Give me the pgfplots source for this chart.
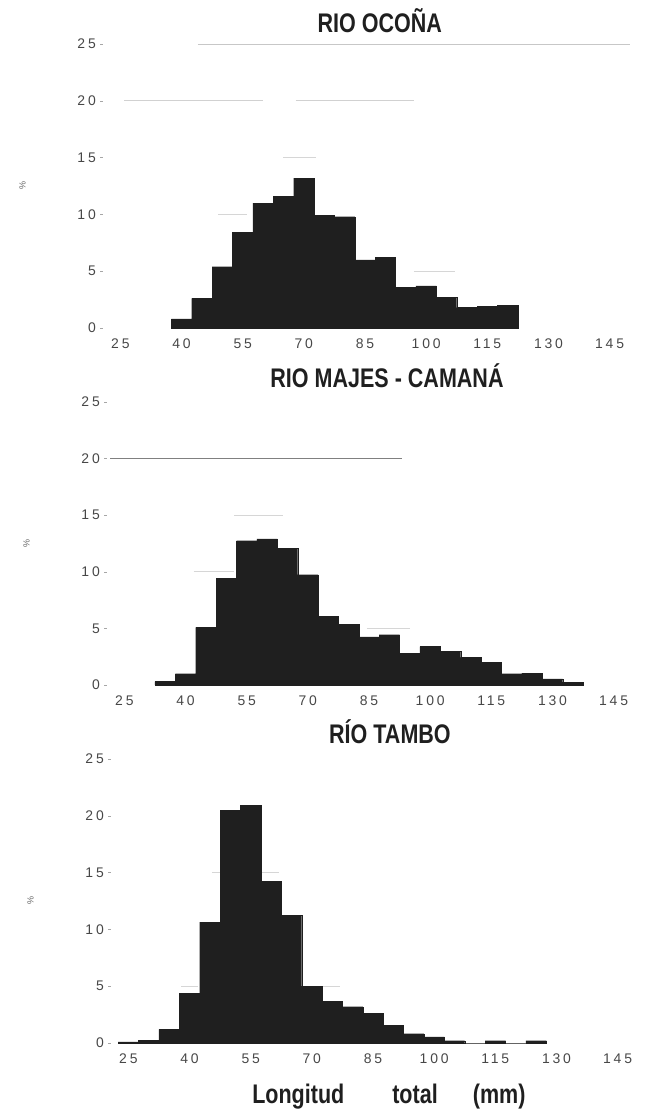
\documentclass[border=0pt]{standalone}
\usepackage{fontspec}
\setmainfont{Liberation Sans}
\newfontfamily\tickfont[LetterSpace=20]{Liberation Sans}
\usepackage{graphicx}
\usepackage{pgfplots}
\pgfplotsset{compat=1.18}
\definecolor{barc}{gray}{0.12}
\pgfplotsset{
  hist/.style={
    scale only axis, width=530bp, height=284bp,
    xmin=20, xmax=150, ymin=0, ymax=25,
    xtick={25,40,...,145}, ytick={0,5,...,25},
    axis line style={draw=none},
    xtick style={draw=none},
    ytick pos=left,
    ytick style={draw=black!35, thin},
    major tick length=3bp,
    tick label style={font=\tickfont\fontsize{14}{16}\selectfont, text=black!72, inner sep=0pt},
    /pgf/number format/assume math mode=true,
    yticklabel style={xshift=-4bp},
    xticklabel style={yshift=-11bp},
    ylabel={\%},
    ylabel style={at={(axis description cs:-0.146,0.5)}, anchor=center, font=\fontsize{9}{10}\selectfont, text=black!60},
    title style={font=\fontsize{27}{30}\selectfont\bfseries, anchor=center, text=black!88},
    clip=false,
  },
  gl/.style={black!22, line width=0.6bp},
  bars/.style={ybar, bar width=5, fill=barc, draw=barc, line width=0.2bp},
}
\begin{document}
\begin{tikzpicture}
\useasboundingbox (0,0) rectangle (651bp,1114bp);
% ---------- RIO OCONA ----------
\begin{axis}[hist, at={(100bp,786bp)}, anchor=south west,
  title={\scalebox{0.8}[1]{RIO OCOÑA}},
  title style={at={(axis description cs:0.528,1.06)}}]
\addplot[gl] coordinates {(44,25) (150,25)};
\addplot[gl, black!18] coordinates {(26,20) (60,20)};
\addplot[gl, black!18] coordinates {(68,20) (97,20)};
\addplot[gl, black!16] coordinates {(65,15) (73,15)};
\addplot[gl, black!16] coordinates {(49,10) (56,10)};
\addplot[gl, black!16] coordinates {(97,5) (107,5)};
\addplot[bars] table {
x y
40 0.8
45 2.6
50 5.4
55 8.4
60 11.0
65 11.6
70 13.2
75 9.9
80 9.8
85 6.0
90 6.2
95 3.6
100 3.7
105 2.7
110 1.8
115 1.9
120 2.0
};
\end{axis}
% ---------- RIO MAJES - CAMANA ----------
\begin{axis}[hist, at={(104bp,429bp)}, anchor=south west, height=283bp,
  title={\scalebox{0.8}[1]{RIO MAJES - CAMANÁ}},
  title style={at={(axis description cs:0.534,1.07)}}]
\addplot[gl, black!50] coordinates {(21.5,20) (93,20)};
\addplot[gl, black!16] coordinates {(52,15) (64,15)};
\addplot[gl, black!16] coordinates {(42,10) (52,10)};
\addplot[gl, black!16] coordinates {(84.5,5) (95,5)};
\addplot[bars] table {
x y
35 0.3
40 1.0
45 5.1
50 9.45
55 12.75
60 12.9
65 12.05
70 9.75
75 6.05
80 5.35
85 4.25
90 4.45
95 2.8
100 3.4
105 3.0
110 2.45
115 2.0
120 1.0
125 1.05
130 0.55
135 0.25
};
\end{axis}
% ---------- RIO TAMBO ----------
\begin{axis}[hist, at={(108bp,71bp)}, anchor=south west,
  title={\scalebox{0.8}[1]{RÍO TAMBO}},
  title style={at={(axis description cs:0.532,1.074)}},
  xlabel={\scalebox{0.8}[1]{Longitud\hspace{60bp}total\hspace{44bp}(mm)}},
  xlabel style={at={(axis description cs:0.530,-0.19)}, anchor=center, font=\fontsize{27}{30}\selectfont\bfseries, text=black!88}]
\addplot[gl, black!16] coordinates {(45.5,15) (62,15)};
\addplot[gl, black!16] coordinates {(38,5) (42,5)};
\addplot[gl, black!16] coordinates {(68,5) (77,5)};
\addplot[bars] table {
x y
25 0.1
30 0.25
35 1.2
40 4.35
45 10.65
50 20.5
55 20.9
60 14.25
65 11.25
70 5.0
75 3.65
80 3.2
85 2.6
90 1.58
95 0.82
100 0.53
105 0.2
110 0
115 0.2
120 0
125 0.2
};
\end{axis}
\end{tikzpicture}
\end{document}
